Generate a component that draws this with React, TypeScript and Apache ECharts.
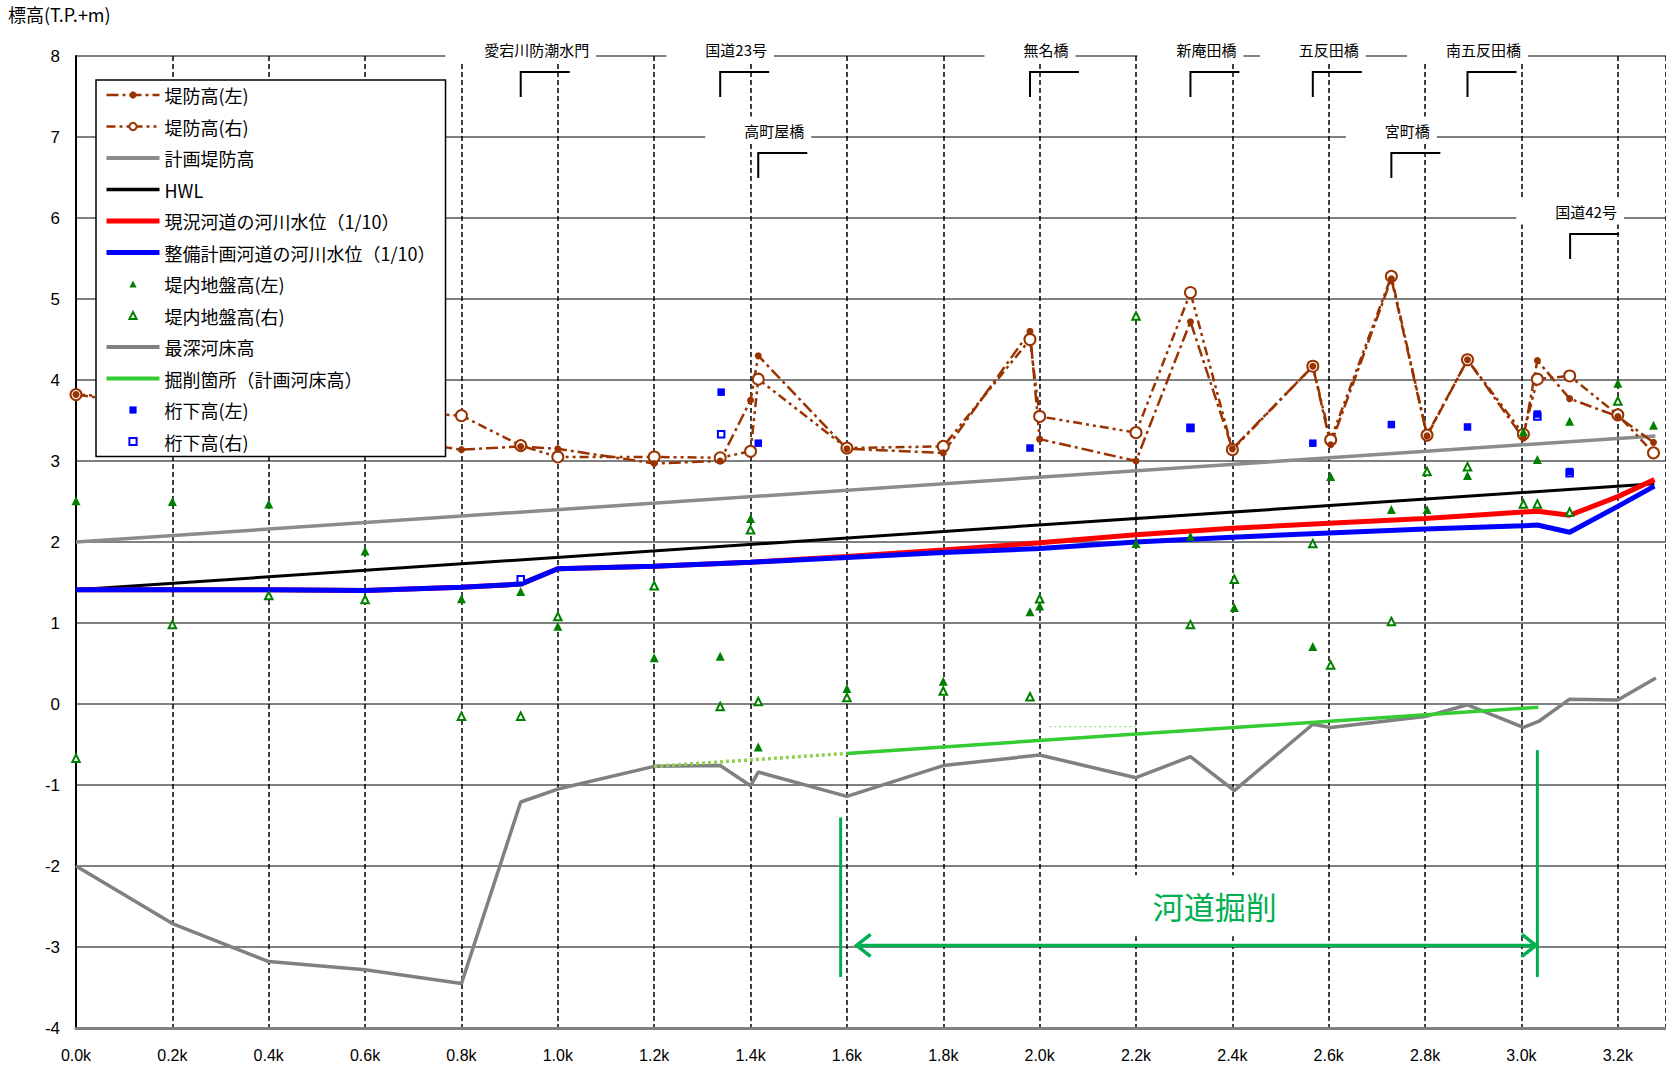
import React, { useEffect, useRef } from 'react';
import * as echarts from 'echarts';

const JP = '"Noto Sans CJK JP", "Noto Sans CJK SC", sans-serif';
const NUM = '"Liberation Sans", Arial, sans-serif';

// ---- Data (distance km, elevation T.P.+m) ----
const leveeKm = [0, 0.8, 0.923, 1.0, 1.2, 1.337, 1.4, 1.416, 1.6, 1.8, 1.98, 2.0, 2.2, 2.313, 2.4, 2.567, 2.604, 2.73, 2.804, 2.888, 3.004, 3.033, 3.1, 3.2, 3.274];
const leveeLeft = [3.82, 3.14, 3.18, 3.15, 2.97, 3.0, 3.75, 4.3, 3.15, 3.1, 4.6, 3.27, 3.0, 4.72, 3.15, 4.17, 3.2, 5.25, 3.31, 4.25, 3.28, 4.24, 3.77, 3.55, 3.23];
const leveeRight = [3.82, 3.56, 3.19, 3.05, 3.05, 3.04, 3.12, 4.01, 3.16, 3.18, 4.5, 3.55, 3.35, 5.08, 3.14, 4.17, 3.26, 5.28, 3.32, 4.25, 3.33, 4.01, 4.05, 3.57, 3.1];

const planLeveeKm = [0, 3.278];
const planLeveeH = [2.0, 3.31];

const hwlKm = [0, 3.276];
const hwlH = [1.41, 2.72];

const wlKm = [0, 0.2, 0.4, 0.6, 0.8, 0.923, 1.0, 1.2, 1.4, 1.6, 1.8, 2.0, 2.2, 2.4, 2.6, 2.8, 3.004, 3.033, 3.1, 3.2, 3.276];
const wlCurrent = [1.41, 1.41, 1.41, 1.4, 1.44, 1.48, 1.67, 1.7, 1.75, 1.82, 1.9, 1.99, 2.09, 2.17, 2.23, 2.29, 2.37, 2.38, 2.33, 2.56, 2.77];
const wlPlan = [1.41, 1.41, 1.41, 1.4, 1.44, 1.48, 1.67, 1.7, 1.75, 1.81, 1.87, 1.92, 2.0, 2.06, 2.11, 2.16, 2.2, 2.21, 2.12, 2.44, 2.69];

const groundLeftKm = [0, 0.2, 0.4, 0.6, 0.8, 0.923, 1.0, 1.2, 1.337, 1.4, 1.416, 1.6, 1.8, 1.98, 2.0, 2.2, 2.313, 2.404, 2.567, 2.604, 2.73, 2.804, 2.888, 3.004, 3.033, 3.1, 3.2, 3.274];
const groundLeftH = [2.51, 2.5, 2.47, 1.89, 1.3, 1.39, 0.96, 0.57, 0.59, 2.29, -0.53, 0.19, 0.28, 1.14, 1.21, 1.98, 2.07, 1.19, 0.71, 2.81, 2.4, 2.4, 2.82, 3.36, 3.02, 3.49, 3.96, 3.44];
const groundRightKm = [0, 0.2, 0.4, 0.6, 0.8, 0.923, 1.0, 1.2, 1.337, 1.4, 1.416, 1.6, 1.8, 1.98, 2.0, 2.2, 2.313, 2.404, 2.567, 2.604, 2.73, 2.804, 2.888, 3.004, 3.033, 3.1, 3.2];
const groundRightH = [-0.67, 0.98, 1.34, 1.29, -0.15, -0.15, 1.08, 1.46, -0.03, 2.15, 0.03, 0.08, 0.16, 0.09, 1.3, 4.79, 0.98, 1.54, 1.98, 0.48, 1.02, 2.87, 2.93, 2.47, 2.47, 2.37, 3.74];

const bedKm = [0, 0.2, 0.4, 0.6, 0.8, 0.923, 1.0, 1.2, 1.337, 1.4, 1.416, 1.6, 1.8, 2.0, 2.2, 2.313, 2.404, 2.567, 2.604, 2.804, 2.888, 3.004, 3.037, 3.1, 3.2, 3.279];
const bedH = [-2.0, -2.71, -3.18, -3.28, -3.45, -1.21, -1.05, -0.77, -0.76, -1.01, -0.84, -1.14, -0.76, -0.63, -0.91, -0.65, -1.07, -0.25, -0.29, -0.15, -0.01, -0.29, -0.21, 0.06, 0.05, 0.32];

const excKm = [1.6, 3.035];
const excH = [-0.61, -0.04];
const excDotKm = [1.2, 1.6];
const excDotH = [-0.77, -0.61];
const faintKm = [2.02, 2.2];
const faintH = [-0.28, -0.28];

const girderLeftKm = [1.339, 1.416, 1.98, 2.313, 2.567, 2.73, 2.888, 3.033, 3.1];
const girderLeftH = [3.85, 3.22, 3.16, 3.4, 3.22, 3.45, 3.42, 3.58, 2.87];
const girderRightKm = [0.923, 1.339, 2.313, 3.033, 3.1];
const girderRightH = [1.54, 3.33, 3.41, 3.55, 2.85];

const bridgeNames = ['愛宕川防潮水門', '国道23号', '高町屋橋', '無名橋', '新庵田橋', '五反田橋', '宮町橋', '南五反田橋', '国道42号'];
const bridgeKm = [0.923, 1.337, 1.416, 1.98, 2.313, 2.567, 2.73, 2.888, 3.101];
const bridgeLabelLevel = [8, 8, 7, 8, 8, 8, 7, 8, 6];

// Excavation annotation (data coordinates)
const excText = '河道掘削';
const excTextAt = [2.357, -2.49];
const excArrow = { from: 1.62, to: 3.03, level: -2.98 };
const excBars = [
  { km: 1.587, top: -1.4, bottom: -3.37 },
  { km: 3.033, top: -0.57, bottom: -3.37 },
];

const N = {
  leveeL: '堤防高(左)',
  leveeR: '堤防高(右)',
  plan: '計画堤防高',
  hwl: 'HWL',
  cur: '現況河道の河川水位（1/10）',
  pln: '整備計画河道の河川水位（1/10）',
  gL: '堤内地盤高(左)',
  gR: '堤内地盤高(右)',
  bed: '最深河床高',
  exc: '掘削箇所（計画河床高）',
  girL: '桁下高(左)',
  girR: '桁下高(右)',
};

const pairs = (xs: number[], ys: number[]) => xs.map((x, i) => [x, ys[i]]);

const BROWN = '#993300';
const GREEN_T = '#008000';
const BLUE = '#0000FF';
const ANNOT = '#00B050';

function buildOption(): any {
  return {
    animation: false,
    backgroundColor: '#fff',
    grid: { left: 76, right: 0, top: 56, bottom: 39, containLabel: false },
    graphic: [
      { type: 'text', left: 8, top: 5, style: { text: '標高(T.P.+m)', fontSize: 18, fontFamily: JP, fill: '#000' } },
    ],
    legend: {
      orient: 'vertical',
      left: 96,
      top: 80,
      backgroundColor: '#fff',
      borderColor: '#000',
      borderWidth: 1.5,
      borderRadius: 0,
      padding: [5, 10, 5, 8],
      itemWidth: 53,
      itemHeight: 9,
      itemGap: 11.5,
      selectedMode: false,
      textStyle: { fontSize: 18, fontFamily: JP, color: '#000', lineHeight: 20 },
      data: [
        { name: N.leveeL, lineStyle: { width: 2.5 } },
        { name: N.leveeR, lineStyle: { width: 2.5 } },
        { name: N.plan, lineStyle: { width: 4 }, itemStyle: { opacity: 0 } },
        { name: N.hwl, lineStyle: { width: 3.5 }, itemStyle: { opacity: 0 } },
        { name: N.cur, lineStyle: { width: 5 }, itemStyle: { opacity: 0 } },
        { name: N.pln, lineStyle: { width: 5 }, itemStyle: { opacity: 0 } },
        { name: N.gL },
        { name: N.gR },
        { name: N.bed, lineStyle: { width: 4 }, itemStyle: { opacity: 0 } },
        { name: N.exc, lineStyle: { width: 4 }, itemStyle: { opacity: 0 } },
        { name: N.girL },
        { name: N.girR },
      ],
    },
    xAxis: {
      type: 'value',
      min: 0,
      max: 3.3,
      interval: 0.2,
      axisLine: { onZero: false, lineStyle: { color: '#808080', width: 3 } },
      axisTick: { show: false },
      axisLabel: {
        margin: 19,
        fontSize: 16,
        fontFamily: NUM,
        color: '#000',
        showMaxLabel: false,
        formatter: (v: number) => {
          const r = Math.round(v * 5);
          if (Math.abs(v * 5 - r) > 1e-6) return '';
          return (r / 5).toFixed(1) + 'k';
        },
      },
      splitLine: { show: true, lineStyle: { color: '#000', width: 1.5, type: [5, 3] } },
    },
    yAxis: {
      type: 'value',
      min: -4,
      max: 8,
      interval: 1,
      axisLine: { show: true, onZero: false, lineStyle: { color: '#000', width: 2 } },
      axisTick: { show: false },
      axisLabel: { margin: 16, fontSize: 17, fontFamily: NUM, color: '#000' },
      splitLine: { show: true, lineStyle: { color: '#808080', width: 2 } },
    },
    series: [
      {
        name: N.plan, type: 'line', data: pairs(planLeveeKm, planLeveeH), symbol: 'none',
        lineStyle: { color: '#8C8C8C', width: 3.5 }, itemStyle: { color: '#8C8C8C' },
      },
      {
        name: N.bed, type: 'line', data: pairs(bedKm, bedH), symbol: 'none',
        lineStyle: { color: '#808080', width: 3.5 }, itemStyle: { color: '#808080' },
      },
      {
        name: 'excDotted', type: 'line', data: pairs(excDotKm, excDotH), symbol: 'none',
        lineStyle: { color: '#92D050', width: 3.5, type: [3, 3] }, itemStyle: { color: '#92D050' },
      },
      {
        name: 'faint', type: 'line', data: pairs(faintKm, faintH), symbol: 'none',
        lineStyle: { color: '#7FD27F', width: 1, type: [2, 3] }, itemStyle: { color: '#7FD27F' },
      },
      {
        name: N.exc, type: 'line', data: pairs(excKm, excH), symbol: 'none',
        lineStyle: { color: '#33CC33', width: 3.5 }, itemStyle: { color: '#33CC33' },
      },
      {
        name: N.hwl, type: 'line', data: pairs(hwlKm, hwlH), symbol: 'none',
        lineStyle: { color: '#000', width: 3 }, itemStyle: { color: '#000' },
      },
      {
        name: N.cur, type: 'line', data: pairs(wlKm, wlCurrent), symbol: 'none',
        lineStyle: { color: '#FF0000', width: 5 }, itemStyle: { color: '#FF0000' },
      },
      {
        name: N.pln, type: 'line', data: pairs(wlKm, wlPlan), symbol: 'none',
        lineStyle: { color: '#0000FF', width: 5 }, itemStyle: { color: '#0000FF' },
      },
      {
        name: N.leveeR, type: 'line', data: pairs(leveeKm, leveeRight), symbol: 'emptyCircle', symbolSize: 11,
        lineStyle: { color: BROWN, width: 2.5, type: [9, 4, 3, 4, 3, 4] }, itemStyle: { color: BROWN },
      },
      {
        name: N.leveeL, type: 'line', data: pairs(leveeKm, leveeLeft), symbol: 'circle', symbolSize: 7,
        lineStyle: { color: BROWN, width: 2.5, type: [12, 4, 3, 4] }, itemStyle: { color: BROWN },
      },
      {
        name: N.gL, type: 'line', data: pairs(groundLeftKm, groundLeftH), symbol: 'triangle', symbolSize: 9,
        lineStyle: { opacity: 0 }, itemStyle: { color: GREEN_T },
      },
      {
        name: N.gR, type: 'line', data: pairs(groundRightKm, groundRightH), symbol: 'emptyTriangle', symbolSize: 7.5,
        lineStyle: { opacity: 0 }, itemStyle: { color: GREEN_T },
      },
      {
        name: N.girR, type: 'line', data: pairs(girderRightKm, girderRightH), symbol: 'emptyRect', symbolSize: 6.5,
        lineStyle: { opacity: 0 }, itemStyle: { color: BLUE },
      },
      {
        name: N.girL, type: 'line', data: pairs(girderLeftKm, girderLeftH), symbol: 'rect', symbolSize: 7.5,
        lineStyle: { opacity: 0 }, itemStyle: { color: BLUE },
      },
      {
        name: 'bridges', type: 'custom', z: 10, silent: true,
        data: bridgeKm.map((k, i) => [k, bridgeLabelLevel[i], i]),
        encode: { x: 0, y: 1 },
        renderItem: (params: any, api: any) => {
          const i = api.value(2);
          const p = api.coord([api.value(0), api.value(1)]);
          return {
            type: 'group',
            children: [
              {
                type: 'text', x: p[0], y: p[1] - 7,
                style: {
                  text: bridgeNames[i], fill: '#000', fontSize: 15, fontFamily: JP,
                  align: 'center', verticalAlign: 'middle', backgroundColor: '#fff', padding: [6, 7, 6, 39],
                },
              },
              {
                type: 'polyline',
                shape: { points: [[p[0], p[1] + 41], [p[0], p[1] + 16], [p[0] + 49, p[1] + 16]] },
                style: { stroke: '#000', lineWidth: 2, fill: null },
              },
            ],
          };
        },
      },
      {
        name: 'excavation', type: 'custom', z: 10, silent: true,
        data: [[excTextAt[0], excTextAt[1]]],
        encode: { x: 0, y: 1 },
        renderItem: (params: any, api: any) => {
          const t = api.coord([api.value(0), api.value(1)]);
          const a1 = api.coord([excArrow.from, excArrow.level]);
          const a2 = api.coord([excArrow.to, excArrow.level]);
          const children: any[] = [
            {
              type: 'text', x: t[0], y: t[1],
              style: {
                text: excText, fill: ANNOT, fontSize: 31, fontFamily: JP,
                align: 'center', verticalAlign: 'middle', backgroundColor: '#fff', padding: [18, 14, 12, 20],
              },
            },
            { type: 'line', shape: { x1: a1[0], y1: a1[1], x2: a2[0], y2: a2[1] }, style: { stroke: ANNOT, lineWidth: 3.5 } },
            {
              type: 'polyline',
              shape: { points: [[a1[0] + 14, a1[1] - 11], [a1[0], a1[1]], [a1[0] + 14, a1[1] + 11]] },
              style: { stroke: ANNOT, lineWidth: 3.5, fill: null },
            },
            {
              type: 'polyline',
              shape: { points: [[a2[0] - 14, a2[1] - 11], [a2[0], a2[1]], [a2[0] - 14, a2[1] + 11]] },
              style: { stroke: ANNOT, lineWidth: 3.5, fill: null },
            },
          ];
          excBars.forEach((b) => {
            const p1 = api.coord([b.km, b.top]);
            const p2 = api.coord([b.km, b.bottom]);
            children.push({ type: 'line', shape: { x1: p1[0], y1: p1[1], x2: p2[0], y2: p2[1] }, style: { stroke: ANNOT, lineWidth: 3 } });
          });
          return { type: 'group', children };
        },
      },
    ],
  };
}

export default function App() {
  const ref = useRef<HTMLDivElement>(null);
  useEffect(() => {
    if (!ref.current) return;
    const chart = echarts.init(ref.current, null, { renderer: 'svg' });
    chart.setOption(buildOption());
    return () => chart.dispose();
  }, []);
  return (
    <div
      ref={ref}
      style={{ position: 'fixed', left: 0, top: 0, width: 1666, height: 1067, background: '#fff' }}
    />
  );
}
